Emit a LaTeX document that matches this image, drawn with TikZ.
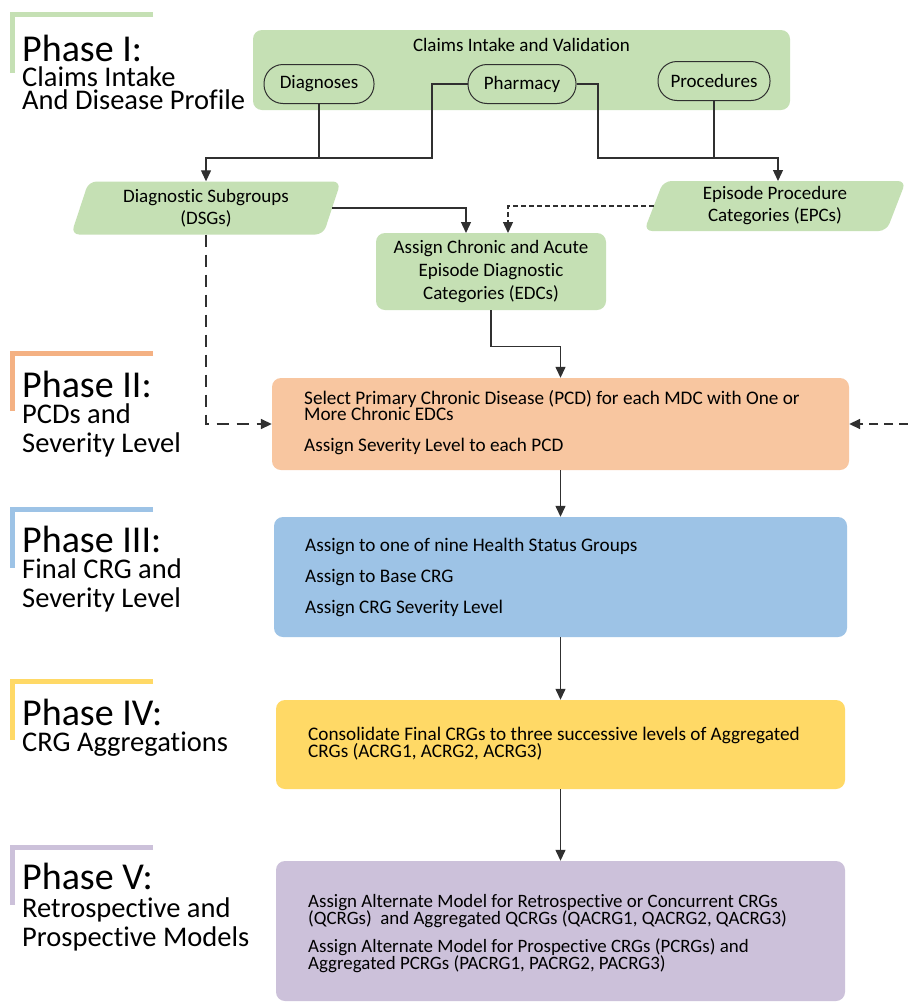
\documentclass[tikz,border=0pt]{standalone}
\usepackage{fontspec}
\setmainfont{Carlito}[Ligatures=NoCommon]
\usetikzlibrary{arrows.meta,shapes.geometric,calc}
\definecolor{gfill}{HTML}{C5E0B4}
\definecolor{gbar}{HTML}{C5E0B4}
\definecolor{ofill}{HTML}{F8C6A0}
\definecolor{obar}{HTML}{F4B183}
\definecolor{bfill}{HTML}{9DC3E6}
\definecolor{yfill}{HTML}{FFD966}
\definecolor{pfill}{HTML}{CCC1DA}
\definecolor{lk}{HTML}{303030}
\newcommand\fsz[2]{\fontsize{#1}{#2}\selectfont\lineskiplimit=-20pt\relax}
\begin{document}
\begin{tikzpicture}[x=1pt,y=-1pt,
  phbar/.style={line width=5pt,line cap=butt,line join=miter},
  ttl/.style={anchor=base west,inner sep=0pt,font=\fsz{38}{40}},
  sub/.style={anchor=base west,inner sep=0pt,align=left},
  box/.style={draw=none,rounded corners=9pt,inner sep=0pt},
  pill/.style={draw=lk,line width=1pt,fill=gfill,rounded corners=19pt,minimum height=39pt,inner sep=0pt,font=\fsz{19}{20}},
  para/.style={trapezium,trapezium left angle=72,trapezium right angle=108,trapezium stretches=true,fill=gfill,draw=none,rounded corners=8pt,inner sep=0pt,align=center,font=\fsz{19}{22}},
  btxt/.style={anchor=base west,inner sep=0pt,align=left},
  conn/.style={draw=lk,line width=1.3pt},
  arr/.style={conn,-{Triangle[length=11pt,width=10pt]}},
  ldash/.style={line width=1.7pt,dash pattern=on 12pt off 8pt},
  sdash/.style={dash pattern=on 5pt off 3pt},
  mdash/.style={line width=1.7pt,dash pattern=on 9pt off 6pt}]
\useasboundingbox (0,0) rectangle (908,1002);
\fill[white] (0,0) rectangle (908,1002);

% ---------- Phase labels ----------
\draw[phbar,gbar] (153,14) -- (12,14) -- (12,73);
\node[ttl] (t1) at (22,61) {Phase I:};
\node[sub,font=\fsz{28.5}{23}] (s1) at (22,109) {Claims Intake\\And Disease Profile};

\draw[phbar,obar] (153,353) -- (12,353) -- (12,411);
\node[ttl] (t2) at (22,397) {Phase II:};
\node[sub,font=\fsz{28.5}{29}] (s2) at (22,452) {PCDs and\\Severity Level};

\draw[phbar,bfill] (153,509) -- (12,509) -- (12,568);
\node[ttl] (t3) at (22,552) {Phase III:};
\node[sub,font=\fsz{28.5}{29}] (s3) at (22,607) {Final CRG and\\Severity Level};

\draw[phbar,yfill] (153,681) -- (12,681) -- (12,740);
\node[ttl] (t4) at (22,725) {Phase IV:};
\node[sub,font=\fsz{28.5}{29}] (s4) at (22,751) {CRG Aggregations};

\draw[phbar,pfill] (153,847) -- (12,847) -- (12,905);
\node[ttl] (t5) at (22,889) {Phase V:};
\node[sub,font=\fsz{28.5}{29}] (s5) at (22,946) {Retrospective and\\Prospective Models};

% ---------- Phase I boxes ----------
\node[box,fill=gfill,minimum width=537pt,minimum height=80pt] (intake) at (521.5,70) {};
\node[anchor=base,inner sep=0pt,font=\fsz{19}{20}] (intaket) at (521.5,51) {Claims Intake and Validation};
\node[pill,minimum width=110pt] (diag) at (319,84) {Diagnoses};
\node[pill,minimum width=108pt] (phar) at (522,84) {Pharmacy};
\node[pill,minimum width=112pt] (proc) at (714,81) {Procedures};

\node[para,minimum width=270pt,minimum height=53pt] (dsg) at (206,208) {Diagnostic Subgroups\\(DSGs)};
\node[para,minimum width=262pt,minimum height=50pt] (epc) at (775,206) {Episode Procedure\\Categories (EPCs)};
\node[box,fill=gfill,minimum width=230pt,minimum height=77pt,align=center,font=\fsz{19}{23}] (edc) at (491,271.5) {Assign Chronic and Acute\\Episode Diagnostic\\Categories (EDCs)};

% ---------- Phase II-V boxes ----------
\node[box,fill=ofill,minimum width=577pt,minimum height=92pt] (pcd) at (560.5,424) {};
\node[btxt,font=\fsz{19.2}{16.5}] (pcdt1) at (304,420.5) {Select Primary Chronic Disease (PCD) for each MDC with One or\\More Chronic EDCs};
\node[btxt,font=\fsz{19.2}{16}] (pcdt2) at (304,451) {Assign Severity Level to each PCD};

\node[box,fill=bfill,minimum width=573pt,minimum height=120pt] (hsg) at (560.5,577) {};
\node[btxt,font=\fsz{19.2}{31}] (hsgt) at (305,613) {Assign to one of nine Health Status Groups\\Assign to Base CRG\\Assign CRG Severity Level};

\node[box,fill=yfill,minimum width=569pt,minimum height=89pt] (agg) at (560.5,744.5) {};
\node[btxt,font=\fsz{19.2}{16.5}] (aggt) at (308,757) {Consolidate Final CRGs to three successive levels of Aggregated\\CRGs (ACRG1, ACRG2, ACRG3)};

\node[box,fill=pfill,minimum width=569pt,minimum height=140pt] (mod) at (560.5,931) {};
\node[btxt,font=\fsz{18.9}{16.5}] (modt1) at (308,924) {Assign Alternate Model for Retrospective or Concurrent CRGs\\(QCRGs)\ \ and Aggregated QCRGs (QACRG1, QACRG2, QACRG3)};
\node[btxt,font=\fsz{18.9}{16.5}] (modt2) at (308,969) {Assign Alternate Model for Prospective CRGs (PCRGs) and\\Aggregated PCRGs (PACRG1, PACRG2, PACRG3)};

% ---------- connectors ----------
\coordinate (jl) at (432,158);
\coordinate (jr) at (598,158);
\coordinate (edcin1) at (466,233);
\coordinate (edcin2) at (508,233);
\coordinate (rin) at (908,424);
\coordinate (epcin) at (778,181);

\draw[conn] (diag.south) -- (diag.south |- jl);
\draw[arr] (phar.west) -| (jl) -| (dsg.north);
\draw[conn] (proc.south) -- (proc.south |- jr);
\draw[arr] (phar.east) -| (jr) -| (epcin);
\draw[arr] (dsg.east) -| (edcin1);
\draw[arr,sdash] (epc.west) -| (edcin2);
\draw[arr,ldash] (dsg.south) |- (pcd.west);
\draw[arr] (edc.south) -- ++(0,36) -| (pcd.north);
\draw[arr,mdash] (rin) -- (pcd.east);
\draw[arr] (pcd.south) -- (hsg.north);
\draw[arr] (hsg.south) -- (agg.north);
\draw[arr] (agg.south) -- (mod.north);
\end{tikzpicture}
\end{document}
